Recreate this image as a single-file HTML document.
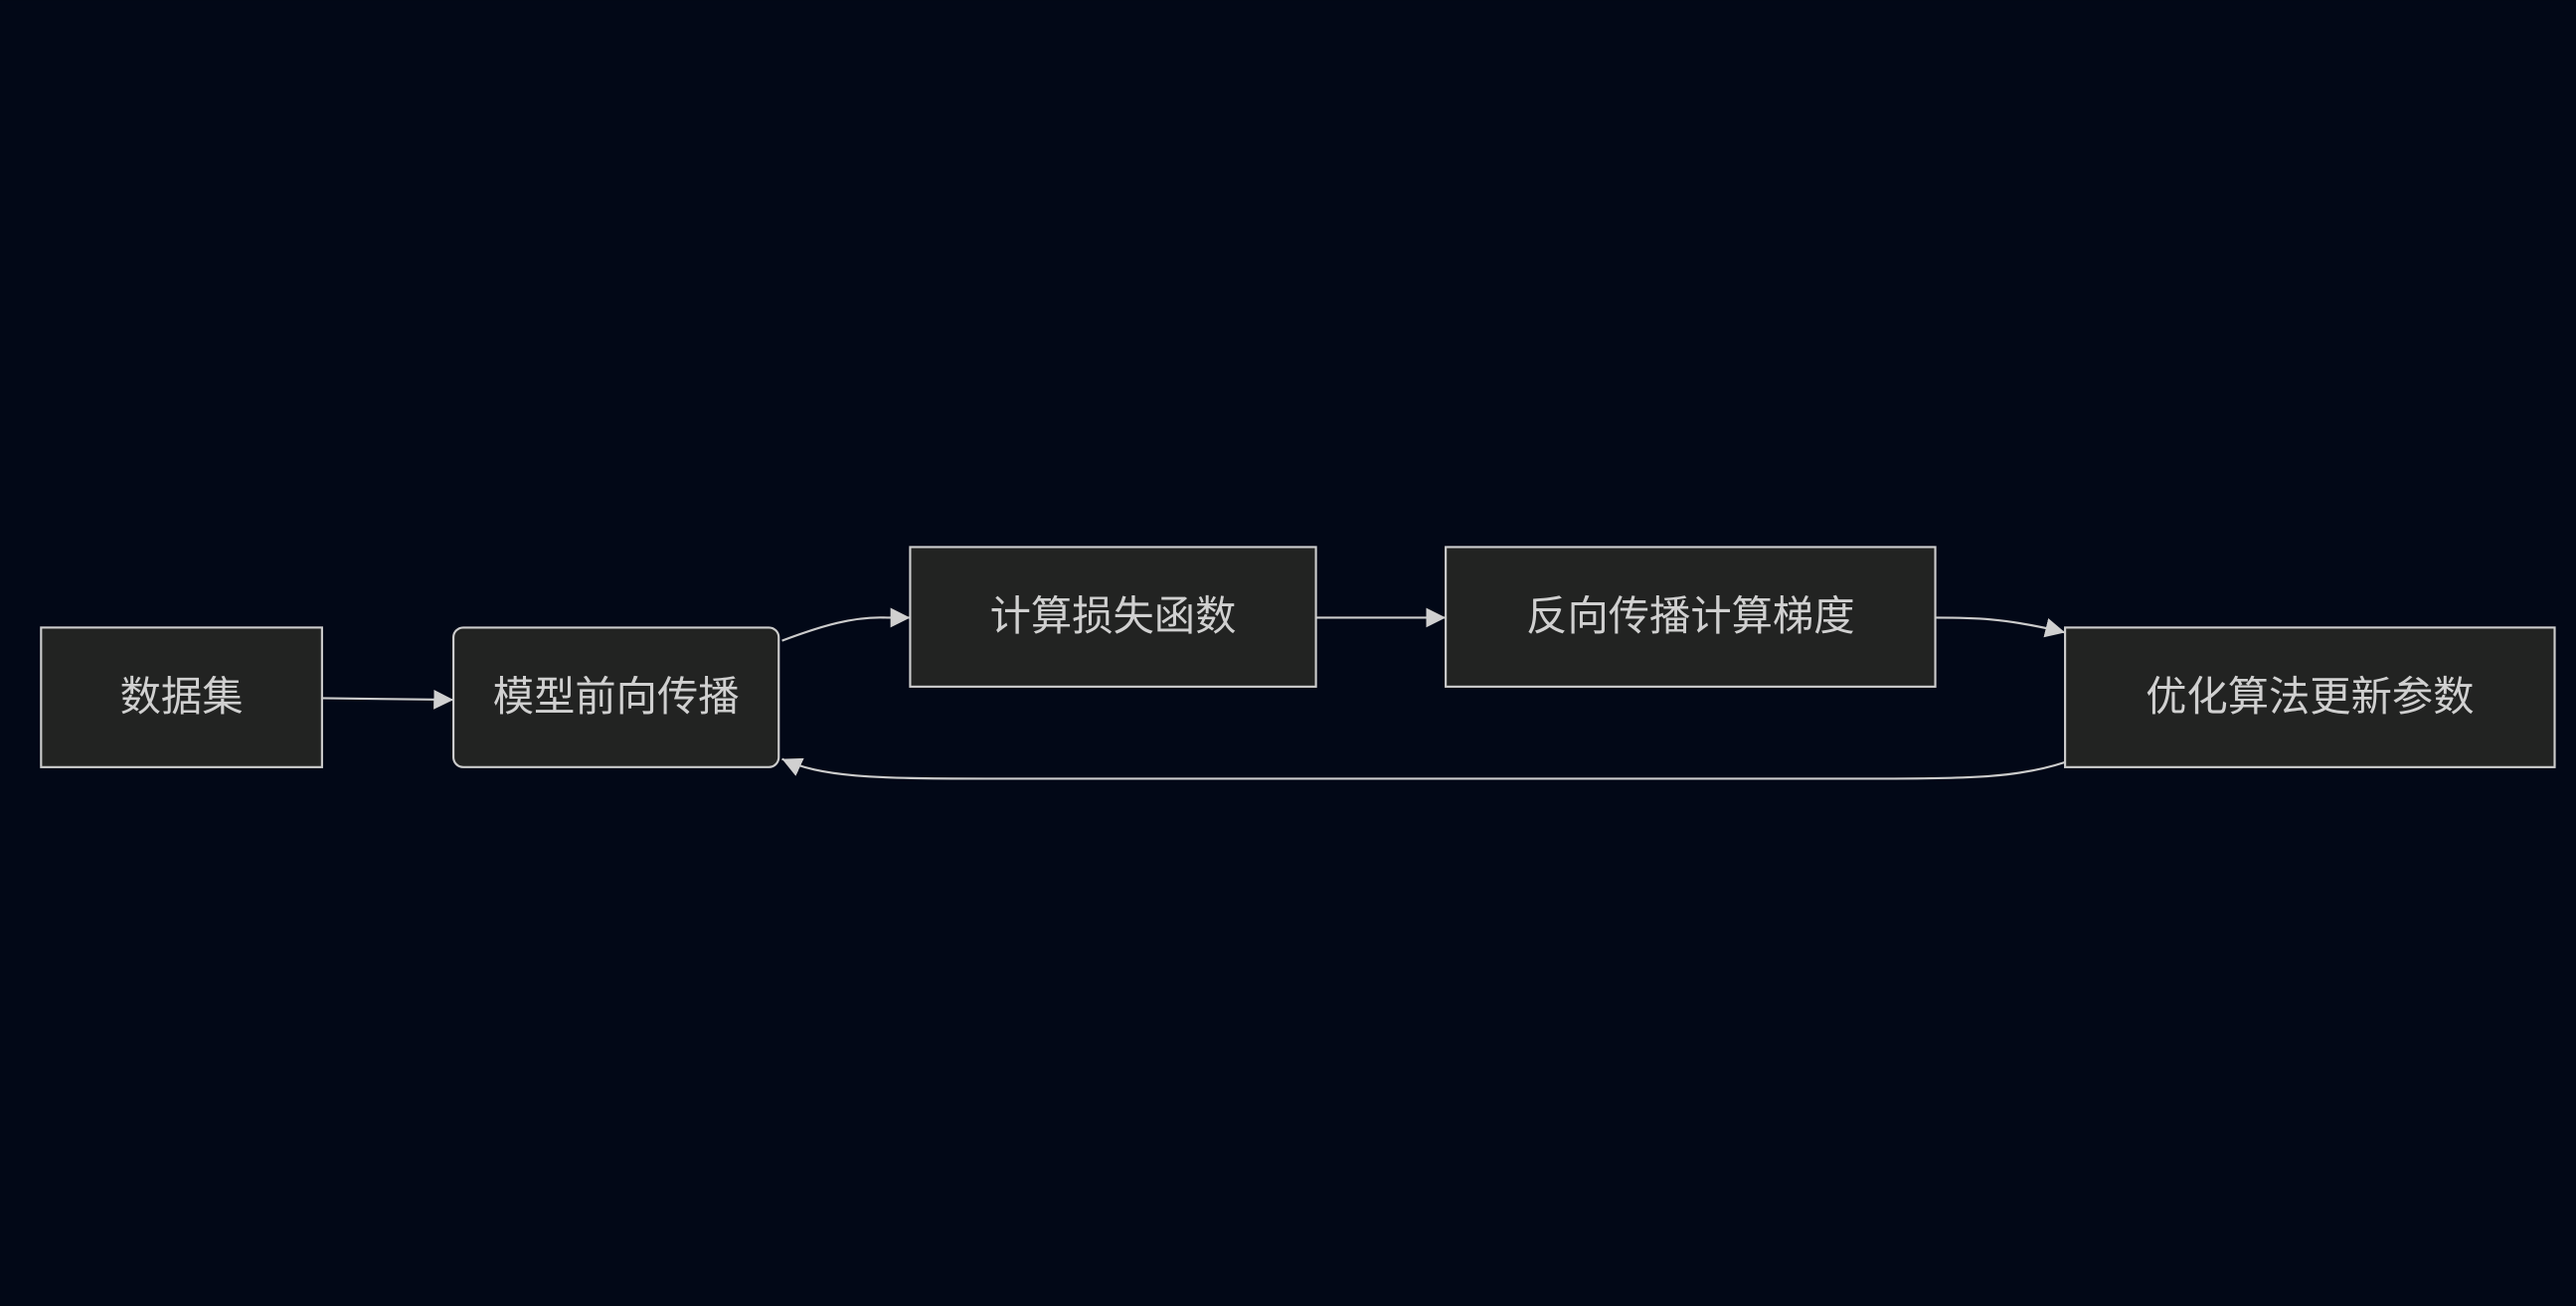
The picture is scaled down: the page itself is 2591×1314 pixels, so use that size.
<!DOCTYPE html>
<html><head><meta charset="utf-8"><style>
html,body{margin:0;padding:0;background:#020817;}
svg{display:block}
text{font-family:"Liberation Sans","Noto Sans CJK SC",sans-serif;font-size:25px;fill:#d0d0d0;text-anchor:middle;dominant-baseline:central}
</style></head><body>
<svg width="2591" height="1314" viewBox="0 0 1568 795" xmlns="http://www.w3.org/2000/svg">
<defs><marker id="a" viewBox="0 0 10 10" refX="10" refY="5" markerWidth="7" markerHeight="7" markerUnits="userSpaceOnUse" orient="auto"><path d="M0,0L10,5L0,10z" fill="#d0d0d0"/></marker>
<marker id="b" viewBox="0 0 10 10" refX="10" refY="5" markerWidth="12" markerHeight="12" markerUnits="userSpaceOnUse" orient="auto"><path d="M0,0L10,5L0,10z" fill="#d0d0d0"/></marker></defs>
<rect width="1568" height="795" fill="#020817"/>
<g fill="#222322" stroke="#cccccc" stroke-width="1.3">
<rect x="25" y="382" width="171" height="85"/>
<rect x="276" y="382" width="198" height="85" rx="6"/>
<rect x="554" y="333" width="247" height="85"/>
<rect x="880" y="333" width="298" height="85"/>
<rect x="1257" y="382" width="298" height="85"/>
</g>
<g fill="none" stroke="#cccccc" stroke-width="1.3" marker-end="url(#b)">
<path d="M196,425 L276,426"/>
<path d="M476,390 C500,381 520,375 540,376 L554,376"/>
<path d="M801,376 L880,376"/>
<path d="M1178,376 C1200,376 1220,376 1257,385"/>
<path d="M1257,464 C1230,473 1200,474 1150,474 L600,474 C530,474 500,473 476,462"/>
</g>
<text x="110.5" y="424">数据集</text>
<text x="375" y="424">模型前向传播</text>
<text x="677.5" y="375">计算损失函数</text>
<text x="1029" y="375">反向传播计算梯度</text>
<text x="1406" y="424">优化算法更新参数</text>
</svg>
</body></html>
